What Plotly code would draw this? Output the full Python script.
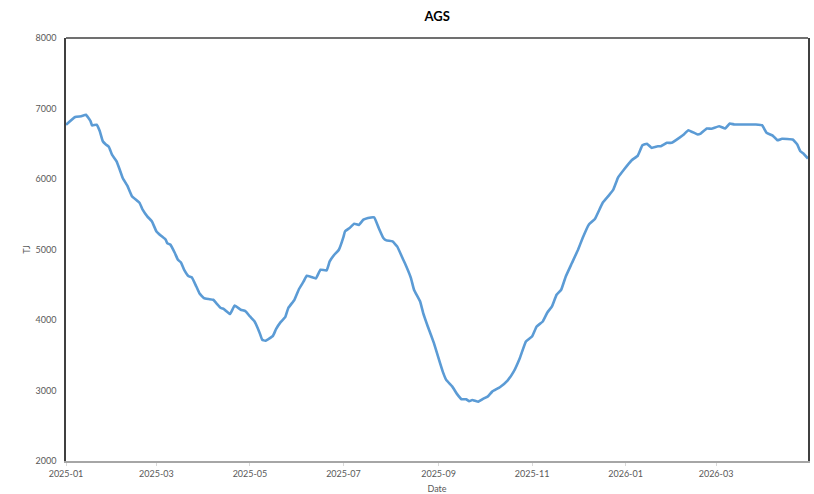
import plotly.graph_objects as go

dates = [
    "2025-01-01", "2025-01-07", "2025-01-11", "2025-01-14", "2025-01-17", "2025-01-18",
    "2025-01-21", "2025-01-23", "2025-01-25", "2025-01-27", "2025-01-29", "2025-01-31",
    "2025-02-03", "2025-02-05", "2025-02-07", "2025-02-10", "2025-02-13", "2025-02-18",
    "2025-02-20", "2025-02-23", "2025-02-26", "2025-03-01", "2025-03-04", "2025-03-07",
    "2025-03-08", "2025-03-10", "2025-03-13", "2025-03-15", "2025-03-17", "2025-03-19",
    "2025-03-22", "2025-03-24", "2025-03-27", "2025-03-29", "2025-04-01", "2025-04-04",
    "2025-04-07", "2025-04-09", "2025-04-12", "2025-04-14", "2025-04-18", "2025-04-21",
    "2025-04-25", "2025-04-28", "2025-05-01", "2025-05-04", "2025-05-07", "2025-05-09",
    "2025-05-11", "2025-05-16", "2025-05-18", "2025-05-21", "2025-05-24", "2025-05-26",
    "2025-05-30", "2025-06-02", "2025-06-05", "2025-06-07", "2025-06-10", "2025-06-13",
    "2025-06-16", "2025-06-20", "2025-06-22", "2025-06-25", "2025-06-28", "2025-07-01",
    "2025-07-02", "2025-07-05", "2025-07-08", "2025-07-11", "2025-07-14", "2025-07-17",
    "2025-07-21", "2025-07-24", "2025-07-27", "2025-07-29", "2025-08-02", "2025-08-05",
    "2025-08-09", "2025-08-11", "2025-08-14", "2025-08-16", "2025-08-20", "2025-08-22",
    "2025-08-25", "2025-08-29", "2025-09-02", "2025-09-04", "2025-09-06", "2025-09-10",
    "2025-09-13", "2025-09-16", "2025-09-19", "2025-09-21", "2025-09-23", "2025-09-27",
    "2025-09-30", "2025-10-03", "2025-10-06", "2025-10-11", "2025-10-16", "2025-10-20",
    "2025-10-24", "2025-10-28", "2025-11-01", "2025-11-04", "2025-11-08", "2025-11-11",
    "2025-11-14", "2025-11-17", "2025-11-20", "2025-11-23", "2025-11-27", "2025-12-01",
    "2025-12-04", "2025-12-08", "2025-12-12", "2025-12-17", "2025-12-21", "2025-12-24",
    "2025-12-27", "2025-12-31", "2026-01-05", "2026-01-09", "2026-01-12", "2026-01-15",
    "2026-01-18", "2026-01-22", "2026-01-24", "2026-01-28", "2026-01-31", "2026-02-05",
    "2026-02-08", "2026-02-11", "2026-02-17", "2026-02-19", "2026-02-23", "2026-02-26",
    "2026-03-03", "2026-03-07", "2026-03-10", "2026-03-13", "2026-03-27", "2026-03-31",
    "2026-04-03", "2026-04-07", "2026-04-10", "2026-04-13", "2026-04-20", "2026-04-23",
    "2026-04-25", "2026-04-27", "2026-04-30",
]

ags_tj = [
    6770, 6880, 6890, 6910, 6820, 6760,
    6770, 6680, 6535, 6490, 6455, 6345,
    6250, 6135, 6015, 5905, 5755, 5660,
    5565, 5470, 5400, 5257, 5195, 5140,
    5090, 5070, 4950, 4855, 4815, 4715,
    4620, 4605, 4475, 4380, 4310, 4297,
    4287, 4240, 4170, 4155, 4085, 4205,
    4145, 4125, 4050, 3980, 3835, 3720,
    3705, 3775, 3870, 3970, 4040, 4170,
    4287, 4440, 4547, 4628, 4610, 4590,
    4713, 4703, 4831, 4926, 4997, 5178,
    5257, 5305, 5366, 5348, 5423, 5447,
    5456, 5305, 5163, 5129, 5115, 5044,
    4855, 4760, 4595, 4429, 4263, 4098,
    3908, 3672, 3388, 3254, 3151, 3055,
    2952, 2876, 2876, 2848, 2866, 2842,
    2881, 2913, 2984, 3047, 3141, 3268,
    3459, 3695, 3766, 3908, 3979, 4107,
    4192, 4358, 4429, 4618, 4808, 4997,
    5163, 5352, 5433, 5660, 5764, 5849,
    6016, 6134, 6266, 6332, 6479, 6499,
    6442, 6465, 6465, 6513, 6513, 6584,
    6631, 6692, 6631, 6645, 6716, 6712,
    6749, 6716, 6787, 6773, 6773, 6763,
    6655, 6616, 6550, 6570, 6560, 6489,
    6394, 6361, 6290,
]

x_range = ["2025-01-01", "2026-04-30"]
y_range = [2000, 8000]

font_family = "Lato, 'Open Sans', sans-serif"
tick_color = "#595959"

fig = go.Figure()
fig.add_trace(go.Scatter(
    x=dates, y=ags_tj, mode="lines",
    line=dict(color="#5b9bd5", width=2.6, shape="spline", smoothing=0.3),
    showlegend=False, hoverinfo="x+y",
))

fig.update_layout(
    width=814, height=494,
    margin=dict(l=66, r=6, t=38, b=33),
    paper_bgcolor="white", plot_bgcolor="white",
    title=dict(text="<b>AGS</b>", x=0.537, xanchor="center", y=0.967, yanchor="middle",
               font=dict(family=font_family, size=13, color="#000000")),
    font=dict(family=font_family, size=9, color=tick_color),
    xaxis=dict(
        type="date", range=x_range, tick0="2025-01-01", dtick="M2",
        tickformat="%Y-%m", showgrid=False, zeroline=False, automargin=False,
        showline=True, linecolor="#a6a6a6", linewidth=2,
        ticks="outside", ticklen=3, tickcolor="#d9d9d9", tickwidth=1,
        tickfont=dict(family=font_family, size=9, color=tick_color),
        title=dict(text="Date", standoff=11, font=dict(family=font_family, size=9, color=tick_color)),
    ),
    yaxis=dict(
        range=y_range, dtick=1000, showgrid=False, zeroline=False, automargin=False,
        showline=True, linecolor="#404040", linewidth=1.5, mirror=True,
        ticks="", ticklabelstandoff=6,
        tickfont=dict(family=font_family, size=9, color=tick_color),
        title=dict(text="TJ", standoff=3, font=dict(family=font_family, size=9, color=tick_color)),
    ),
    shapes=[
        dict(type="line", xref="paper", yref="paper", x0=0, x1=1, y0=1, y1=1,
             line=dict(color="#404040", width=1.5)),
    ],
)

fig.write_html("out.html")
